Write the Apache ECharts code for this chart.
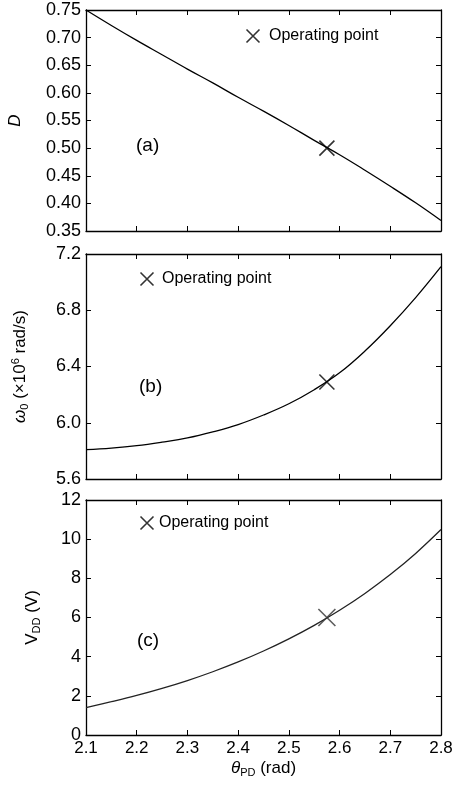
<!DOCTYPE html>
<html>
<head>
<meta charset="utf-8">
<script src="https://cdn.jsdelivr.net/npm/echarts@6/dist/echarts.min.js"></script>
<style>
  html, body { margin: 0; padding: 0; background: #fff; }
  #chart { width: 453px; height: 785px; }
</style>
</head>
<body>
<div id="chart"></div>
<script>
// === DATA ===
const theta = [2.1, 2.15, 2.2, 2.25, 2.3, 2.35, 2.4, 2.45, 2.5, 2.55, 2.6, 2.65, 2.7, 2.75, 2.8];
const dutyD = [0.75, 0.722, 0.695, 0.669, 0.643, 0.618, 0.592, 0.567, 0.541, 0.514, 0.488, 0.460, 0.431, 0.401, 0.369];
const omega0 = [5.809, 5.82, 5.837, 5.862, 5.892, 5.935, 5.987, 6.055, 6.135, 6.235, 6.355, 6.51, 6.69, 6.89, 7.11];
const vdd = [1.40, 1.70, 2.02, 2.38, 2.78, 3.23, 3.73, 4.29, 4.91, 5.60, 6.37, 7.23, 8.19, 9.27, 10.49];

const opTheta = 2.575;
const opD = 0.50;
const opOmega = 6.29;
const opVdd = 6.0;

const xTicks = { min: 2.1, max: 2.8, interval: 0.1 };

// === HELPERS ===
const FONT = '"Liberation Sans", Arial, sans-serif';
const CROSS = 'path://M0,0 L10,10 M10,0 L0,10';

const grids = [
    { left: 86, top: 10, width: 355, height: 221, outerBoundsMode: 'none' },
    { left: 86, top: 254, width: 355, height: 225, outerBoundsMode: 'none' },
    { left: 86, top: 500, width: 355, height: 235, outerBoundsMode: 'none' }
];

function pairs(xs, ys) {
    return xs.map((x, i) => [x, ys[i]]);
}

function xAxisFor(gi, showLabels) {
    const base = {
        type: 'value',
        gridIndex: gi,
        min: xTicks.min,
        max: xTicks.max,
        interval: xTicks.interval,
        axisLine: { show: true, onZero: false, lineStyle: { color: '#000', width: 1.3 } },
        axisTick: { show: true, inside: true, length: 5, lineStyle: { color: '#000' } },
        splitLine: { show: false }
    };
    const bottom = Object.assign({}, base, {
        position: 'bottom',
        axisLabel: {
            show: showLabels, color: '#000', fontFamily: FONT, fontSize: 17, margin: 5,
            formatter: v => v.toFixed(1)
        }
    });
    if (showLabels) {
        bottom.name = '{i|θ}{sub|PD} (rad)';
        bottom.nameLocation = 'middle';
        bottom.nameGap = 23;
        bottom.nameTextStyle = {
            color: '#000', fontFamily: FONT, fontSize: 17,
            rich: {
                i: { fontStyle: 'italic', fontSize: 17, fontFamily: FONT, color: '#000' },
                sub: { fontSize: 11, fontFamily: FONT, color: '#000', padding: [9, 0, 0, 0] }
            }
        };
    }
    const top = Object.assign({}, base, { position: 'top', axisLabel: { show: false } });
    return [bottom, top];
}

function yAxisFor(gi, min, max, interval, digits, name, nameGap, rich) {
    const base = {
        type: 'value',
        gridIndex: gi,
        min: min,
        max: max,
        interval: interval,
        axisLine: { show: true, onZero: false, lineStyle: { color: '#000', width: 1.3 } },
        axisTick: { show: true, inside: true, length: 5, lineStyle: { color: '#000' } },
        splitLine: { show: false }
    };
    const left = Object.assign({}, base, {
        position: 'left',
        name: name,
        nameLocation: 'middle',
        nameGap: nameGap,
        nameTextStyle: { color: '#000', fontFamily: FONT, fontSize: 17, rich: rich },
        axisLabel: {
            color: '#000', fontFamily: FONT, fontSize: 18, margin: 5,
            formatter: v => v.toFixed(digits)
        }
    });
    const right = Object.assign({}, base, { position: 'right', axisLabel: { show: false } });
    return [left, right];
}

const subStyle = { fontSize: 11, fontFamily: FONT, color: '#000', padding: [9, 0, 0, 0] };
const supStyle = { fontSize: 11, fontFamily: FONT, color: '#000', padding: [0, 0, 9, 0] };
const mainStyle = { fontSize: 17, fontFamily: FONT, color: '#000' };

const xAxes = [].concat(xAxisFor(0, false), xAxisFor(1, false), xAxisFor(2, true));
const yAxes = [].concat(
    yAxisFor(0, 0.35, 0.75, 0.05, 2, '{i|D}', 62, { i: Object.assign({ fontStyle: 'italic' }, mainStyle) }),
    yAxisFor(1, 5.6, 7.2, 0.4, 1, '{i|ω}{sub|0} (×10{sup|6} rad/s)', 56, {
        i: Object.assign({ fontStyle: 'italic' }, mainStyle), sub: subStyle, sup: supStyle
    }),
    yAxisFor(2, 0, 12, 2, 0, '{n|V}{sub|DD} (V)', 44, { n: mainStyle, sub: subStyle })
);

function curve(gi, ys, color) {
    return {
        type: 'line',
        xAxisIndex: gi * 2,
        yAxisIndex: gi * 2,
        data: pairs(theta, ys),
        smooth: 0.4,
        symbol: 'none',
        silent: true,
        lineStyle: { color: color, width: 1.3 }
    };
}

function opPoint(gi, y, size, color) {
    return {
        type: 'scatter',
        name: 'Operating point',
        xAxisIndex: gi * 2,
        yAxisIndex: gi * 2,
        data: [[opTheta, y]],
        symbol: CROSS,
        symbolSize: size,
        itemStyle: { color: 'none', borderColor: color, borderWidth: 1.6 },
        z: 5
    };
}

function legendAt(left, top, textPad) {
    return {
        data: ['Operating point'],
        left: left,
        top: top,
        padding: 0,
        icon: CROSS,
        itemWidth: 14,
        itemHeight: 13,
        selectedMode: false,
        itemStyle: { color: 'none', borderColor: '#000', borderWidth: 1.6 },
        textStyle: { color: '#000', fontFamily: FONT, fontSize: 16, padding: [0, 0, 0, textPad] }
    };
}

function panelTag(text, x, y) {
    return {
        type: 'text',
        left: x,
        top: y,
        style: { text: text, fill: '#000', font: '19px ' + FONT }
    };
}

const option = {
    backgroundColor: '#fff',
    animation: false,
    grid: grids,
    xAxis: xAxes,
    yAxis: yAxes,
    legend: [legendAt(244, 27, 4), legendAt(138, 270, 3), legendAt(138, 514, 0)],
    graphic: [
        panelTag('(a)', 136, 136),
        panelTag('(b)', 139, 377),
        panelTag('(c)', 137, 631)
    ],
    series: [
        curve(0, dutyD, '#000'),
        curve(1, omega0, '#000'),
        curve(2, vdd, '#222'),
        opPoint(0, opD, 15, '#000'),
        opPoint(1, opOmega, 15, '#000'),
        opPoint(2, opVdd, 17, '#333')
    ]
};

const chart = echarts.init(document.getElementById('chart'));
chart.setOption(option);
</script>
</body>
</html>
